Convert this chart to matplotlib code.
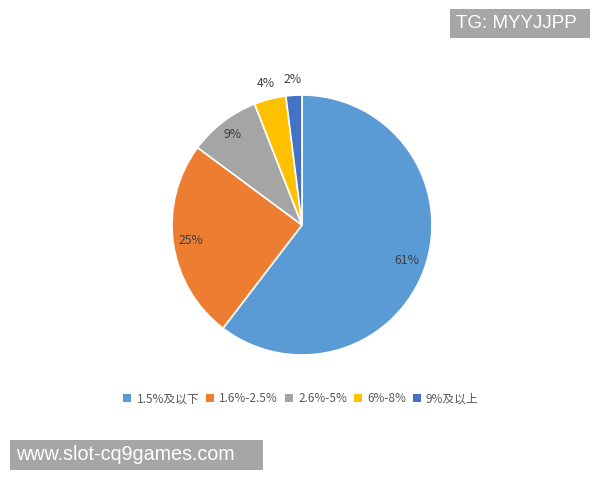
import matplotlib
matplotlib.use("Agg")
import matplotlib.pyplot as plt
from matplotlib.patches import Patch, Rectangle
import numpy as np

plt.rcParams['font.family'] = ['Noto Sans CJK SC', 'DejaVu Sans']

categories = ["1.5%及以下", "1.6%-2.5%", "2.6%-5%", "6%-8%", "9%及以上"]
values = [61, 25, 9, 4, 2]
labels = ["61%", "25%", "9%", "4%", "2%"]
colors = ["#5B9BD5", "#ED7D31", "#A5A5A5", "#FFC000", "#4472C4"]
label_radii = [0.85, 0.86, 0.88, 1.12, 1.12]

fig = plt.figure(figsize=(6, 4.8), dpi=100)
cx, cy, r = 302, 225, 130
ax = fig.add_axes([(cx - r) / 600, (480 - cy - r) / 480, 2 * r / 600, 2 * r / 480])
wedges, _ = ax.pie(values, colors=colors, startangle=90, counterclock=False,
                   radius=1, wedgeprops=dict(edgecolor="white", linewidth=1.2))
ax.set_xlim(-1, 1)
ax.set_ylim(-1, 1)
ax.set_aspect("equal")
ax.axis("off")

for w, lab, lr in zip(wedges, labels, label_radii):
    ang = np.deg2rad((w.theta1 + w.theta2) / 2)
    ax.text(lr * np.cos(ang), lr * np.sin(ang), lab, ha="center", va="center",
            fontsize=8.8, color="#404040", clip_on=False)

handles = [Patch(facecolor=c, edgecolor="none") for c in colors]
fig.legend(handles, categories, loc="center", bbox_to_anchor=(301 / 600, 1 - 399 / 480),
           ncol=5, frameon=False, fontsize=8.5, handlelength=0.65, handleheight=0.65,
           handletextpad=0.45, columnspacing=0.6, labelcolor="#595959")

# watermark boxes
fig.patches.append(Rectangle((450 / 600, 1 - 38 / 480), 140 / 600, 29 / 480,
                             transform=fig.transFigure, facecolor="#A6A6A6", edgecolor="none"))
fig.text(456 / 600, 1 - 24 / 480, "TG: MYYJJPP", color="white", fontsize=13.5,
         va="center", ha="left", family=["Liberation Sans", "DejaVu Sans"])
fig.patches.append(Rectangle((10 / 600, 1 - 470 / 480), 253 / 600, 30 / 480,
                             transform=fig.transFigure, facecolor="#A6A6A6", edgecolor="none"))
fig.text(16 / 600, 1 - 455 / 480, "www.slot-cq9games.com", color="white", fontsize=14.2,
         va="center", ha="left", family=["Liberation Sans", "DejaVu Sans"])

fig.savefig("out.png", dpi=100, facecolor="white")
